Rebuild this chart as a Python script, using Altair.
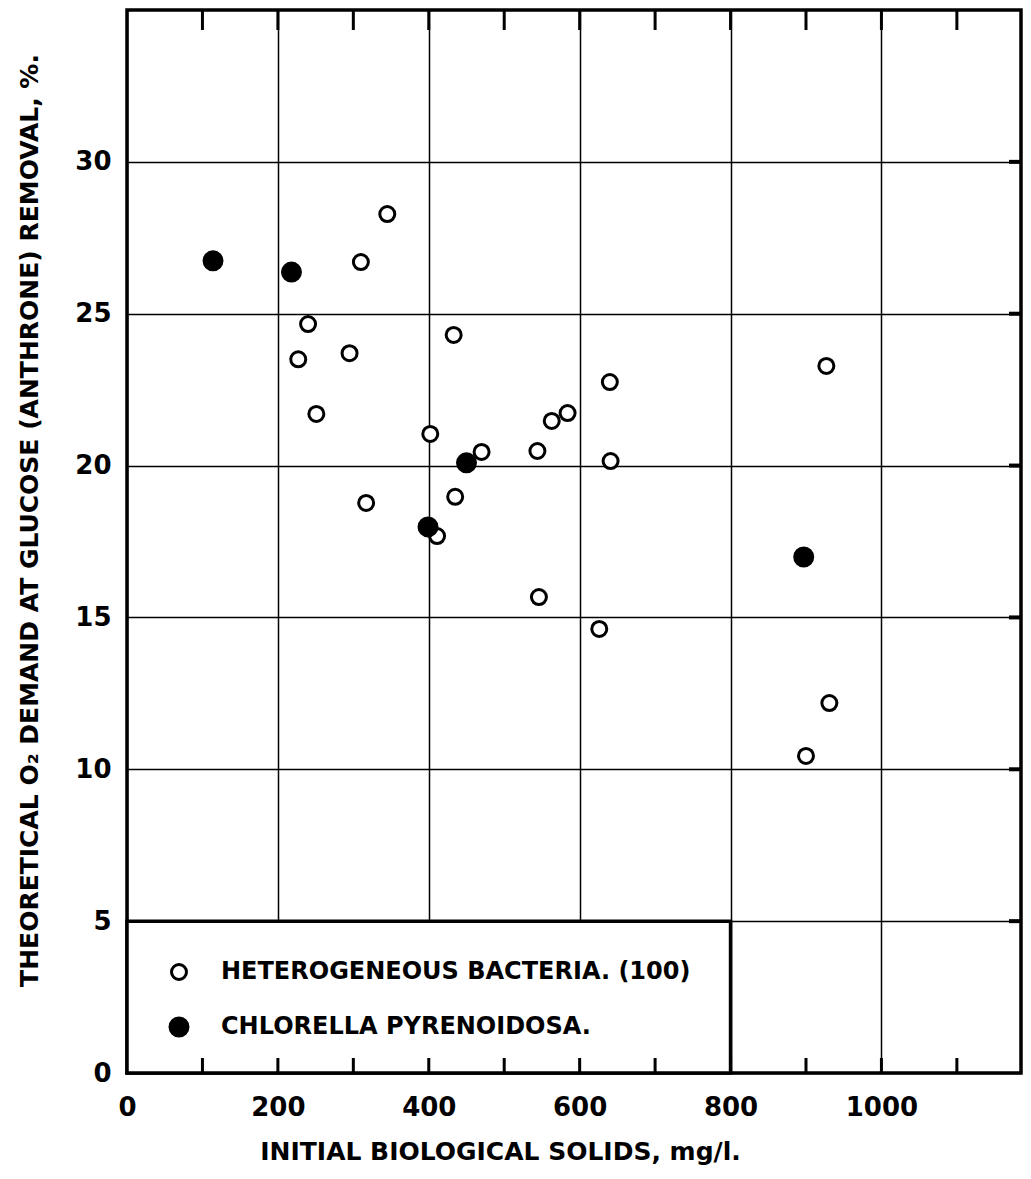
import altair as alt
import pandas as pd

GROUPS = ["HETEROGENEOUS  BACTERIA. (100)", "CHLORELLA  PYRENOIDOSA."]

# Heterogeneous bacteria (open circles)
BACT_X = [345, 310, 240, 227, 295, 433, 640, 927, 251, 402, 470, 435, 317, 411,
          584, 563, 544, 641, 546, 626, 931, 900]
BACT_Y = [28.28, 26.7, 24.66, 23.5, 23.7, 24.3, 22.75, 23.28, 21.7, 21.04, 20.45,
          18.97, 18.77, 17.68, 21.73, 21.47, 20.48, 20.15, 15.67, 14.62, 12.18, 10.44]
# Chlorella pyrenoidosa (filled circles)
CHLO_X = [114, 218, 450, 399, 897]
CHLO_Y = [26.74, 26.37, 20.09, 17.98, 16.99]

X_LABEL_VALUES = [0, 200, 400, 600, 800, 1000]
Y_LABEL_VALUES = [0, 5, 10, 15, 20, 25, 30]
X_MINOR_TICKS = [100, 200, 300, 400, 500, 600, 700, 800, 900, 1000, 1100]
Y_RIGHT_TICKS = [5, 10, 15, 20, 25, 30]
LEGEND_BOX_X = [0, 800]
LEGEND_BOX_Y = [0, 5]
X_DOMAIN = [0, 1185]
Y_DOMAIN = [0, 35]

W, H = 894, 1063
FONT = "DejaVu Sans"

pts = pd.DataFrame({
    "solids": BACT_X + CHLO_X,
    "demand": BACT_Y + CHLO_Y,
    "group": [GROUPS[0]] * len(BACT_X) + [GROUPS[1]] * len(CHLO_X),
})
box = pd.DataFrame({"solids": [LEGEND_BOX_X[0]], "x2": [LEGEND_BOX_X[1]],
                    "demand": [LEGEND_BOX_Y[0]], "y2": [LEGEND_BOX_Y[1]]})
xt = pd.DataFrame({"solids": X_MINOR_TICKS})
yt = pd.DataFrame({"demand": Y_RIGHT_TICKS})

xscale = alt.Scale(domain=X_DOMAIN, nice=False, zero=False)
yscale = alt.Scale(domain=Y_DOMAIN, nice=False, zero=False)

x_axis = alt.Axis(
    values=X_LABEL_VALUES, format="d", grid=True, gridColor="black", gridWidth=1.5,
    gridOpacity=1, domain=False, ticks=False, tickSize=0, labelFlush=False,
    labelOverlap=False, labelPadding=21, labelFontSize=26, labelFont=FONT,
    labelFontWeight="bold", labelColor="black",
    title="INITIAL BIOLOGICAL SOLIDS, mg/l.",
    titleFont=FONT, titleFontSize=25, titleFontWeight="bold", titleColor="black",
    titleX=373, titleY=86, titleBaseline="alphabetic", titleAlign="center",
)
y_axis = alt.Axis(
    values=Y_LABEL_VALUES, grid=True, gridColor="black", gridWidth=1.5, gridOpacity=1,
    domain=False, ticks=False, tickSize=0, labelFlush=False, labelOverlap=False,
    labelPadding=16, labelFontSize=26, labelFont=FONT, labelFontWeight="bold",
    labelColor="black",
    title="THEORETICAL O\u2082 DEMAND AT GLUCOSE (ANTHRONE) REMOVAL, %.",
    titleFont=FONT, titleFontSize=25, titleFontWeight="bold", titleColor="black",
    titleX=-98, titleY=510, titleAngle=270, titleBaseline="middle", titleAlign="center",
)

X = alt.X("solids:Q", scale=xscale, axis=x_axis)
Y = alt.Y("demand:Q", scale=yscale, axis=y_axis)

legend = alt.Legend(
    orient="none", legendX=40, legendY=950, title=None, padding=0, rowPadding=26,
    labelOffset=30, labelFontSize=24, labelFont=FONT, labelFontWeight="bold",
    labelColor="black", labelLimit=800, symbolStrokeColor="black",
    symbolStrokeWidth=3, symbolType="circle", symbolOpacity=1, zindex=1,
)

points = alt.Chart(pts).mark_point(
    filled=True, shape="circle", strokeWidth=3, opacity=1
).encode(
    x=X, y=Y,
    fill=alt.Fill("group:N", scale=alt.Scale(domain=GROUPS, range=["white", "black"]),
                  legend=legend),
    stroke=alt.Stroke("group:N", scale=alt.Scale(domain=GROUPS, range=["black", "black"]),
                      legend=legend),
    size=alt.Size("group:N", scale=alt.Scale(domain=GROUPS, range=[225, 324]),
                  legend=legend),
)

legend_box = alt.Chart(box).mark_rect(fill="white", stroke="black", strokeWidth=3.5).encode(
    x=X, x2="x2:Q", y=Y, y2="y2:Q",
)

top_ticks = alt.Chart(xt).mark_rule(color="black", strokeWidth=3).encode(
    x=X, y=alt.value(0), y2=alt.value(20),
)
bottom_ticks = alt.Chart(xt).mark_rule(color="black", strokeWidth=3).encode(
    x=X, y=alt.value(H - 15), y2=alt.value(H),
)
right_ticks = alt.Chart(yt).mark_rule(color="black", strokeWidth=4).encode(
    y=Y, x=alt.value(W - 12), x2=alt.value(W),
)

chart = alt.layer(
    legend_box, top_ticks, bottom_ticks, right_ticks, points
).properties(
    width=W, height=H,
    padding={"left": 119, "top": 2, "right": 2, "bottom": 97},
    autosize=alt.AutoSizeParams(type="none"),
    background="white",
).configure_view(stroke="black", strokeWidth=3.5)

chart.save("out.html", embed_options={"renderer": "svg", "actions": False})
